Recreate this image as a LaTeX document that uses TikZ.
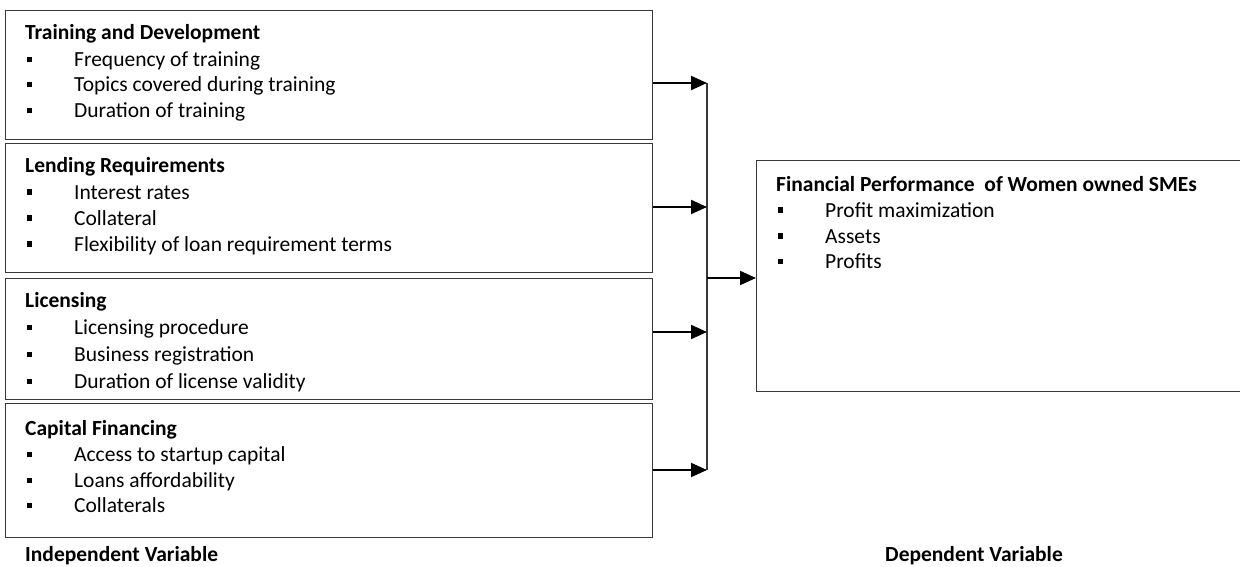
\documentclass[tikz,border=0pt]{standalone}
\usepackage{fontspec}
\setmainfont{Carlito}
\usetikzlibrary{arrows.meta}
\tikzset{
  vbox/.style={draw=black!78, line width=1.4pt, anchor=north west, inner sep=0pt, rectangle},
  ttl/.style={anchor=base west, inner sep=0pt, font=\fontsize{21.5}{24}\selectfont\bfseries},
  itm/.style={anchor=base west, inner sep=0pt, font=\fontsize{21.5}{24}\selectfont},
  feed/.style={line width=2pt, -{Triangle[length=16pt,width=14pt]}},
  bus/.style={line width=1.3pt, draw=black!78}
}
\newcommand{\bul}{\makebox[47pt][l]{\rule[4.5pt]{5pt}{5pt}}}
\begin{document}
\begin{tikzpicture}[x=1pt,y=-1pt]
\useasboundingbox (0,0) rectangle (1240,567);
% boxes
\node[vbox, minimum width=647pt, minimum height=129pt] (b1) at (5,10) {};
\node[vbox, minimum width=647pt, minimum height=129pt] (b2) at (5,143) {};
\node[vbox, minimum width=647pt, minimum height=121pt] (b3) at (5,278) {};
\node[vbox, minimum width=647pt, minimum height=134pt] (b4) at (5,403) {};
\node[vbox, minimum width=494pt, minimum height=231pt] (dv) at (756,160) {};
% texts box 1
\node[ttl] (t1) at (25,40) {Training and Development};
\node[itm] (t1a) at (27,67) {\bul Frequency of training};
\node[itm] (t1b) at (27,92) {\bul Topics covered during training};
\node[itm] (t1c) at (27,118) {\bul Duration of training};
% box 2
\node[ttl] (t2) at (25,173) {Lending Requirements};
\node[itm] (t2a) at (27,199) {\bul Interest rates};
\node[itm] (t2b) at (27,225) {\bul Collateral};
\node[itm] (t2c) at (27,251) {\bul Flexibility of loan requirement terms};
% box 3
\node[ttl] (t3) at (25,307) {Licensing};
\node[itm] (t3a) at (27,334) {\bul Licensing procedure};
\node[itm] (t3b) at (27,361) {\bul Business registration};
\node[itm] (t3c) at (27,388) {\bul Duration of license validity};
% box 4
\node[ttl] (t4) at (25,435) {Capital Financing};
\node[itm] (t4a) at (27,461) {\bul Access to startup capital};
\node[itm] (t4b) at (27,487) {\bul Loans affordability};
\node[itm] (t4c) at (27,512) {\bul Collaterals};
% dependent box
\node[ttl] (td) at (776,191) {Financial Performance\ \ of Women owned SMEs};
\node[itm] (tda) at (778,217) {\bul Profit maximization};
\node[itm] (tdb) at (778,243) {\bul Assets};
\node[itm] (tdc) at (778,268) {\bul Profits};
% captions
\node[ttl] (iv) at (25,561) {Independent Variable};
\node[ttl] (dvl) at (885,561) {Dependent Variable};
% connectors
\coordinate (j1) at (707,83);
\coordinate (j2) at (707,207);
\coordinate (j3) at (707,332);
\coordinate (j4) at (707,470);
\coordinate (jm) at (707,278);
\draw[bus] (j1) -- (j4);
\draw[feed] (b1.east |- j1) -- (j1);
\draw[feed] (b2.east |- j2) -- (j2);
\draw[feed] (b3.east |- j3) -- (j3);
\draw[feed] (b4.east |- j4) -- (j4);
\draw[feed] (jm) -- (dv.west |- jm);
\end{tikzpicture}
\end{document}
